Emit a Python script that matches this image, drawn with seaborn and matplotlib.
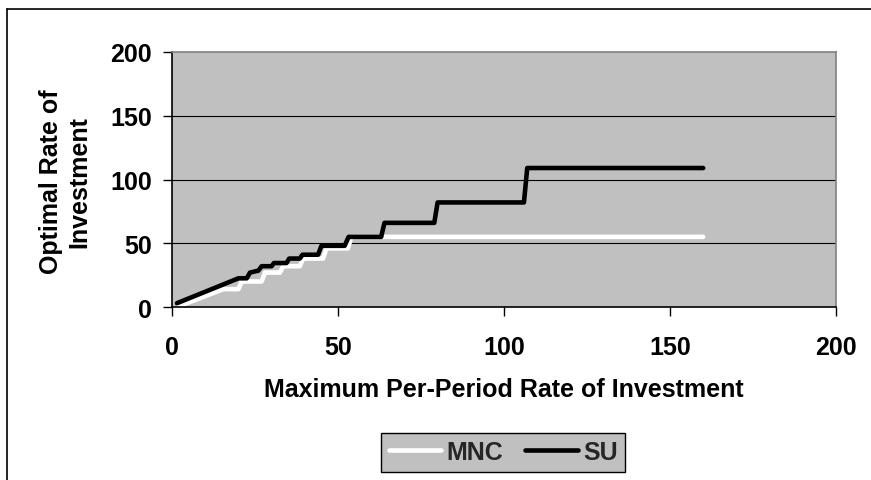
import matplotlib
matplotlib.use("Agg")
import matplotlib.pyplot as plt
import seaborn as sns
import pandas as pd
from matplotlib.lines import Line2D

# ---- data ----
mnc_x = [2, 15.5, 20, 21, 27, 28, 32.5, 33.5, 38.5, 39.5, 45.5, 46.5, 53, 54, 160]
mnc_y = [0.5, 14, 14, 20, 20, 27, 27, 32, 32, 38, 38, 46, 46, 55, 55]
su_x = [1.5, 20, 22.5, 23.5, 26, 27, 30, 30.7, 34.5, 35.3, 38.5, 39.3, 44, 45, 52, 53.2, 63, 64, 79, 80, 106, 107, 160]
su_y = [3, 22.5, 22.5, 27, 28.5, 32, 32, 34.5, 34.5, 38, 38, 41, 41, 48, 48, 55, 55, 66, 66, 82, 82, 109, 109]
series_names = ["MNC", "SU"]
x_ticks = [0, 50, 100, 150, 200]
y_ticks = [0, 50, 100, 150, 200]
x_title = "Maximum Per-Period Rate of Investment"
y_title = "Optimal Rate of\nInvestment"

df_mnc = pd.DataFrame({"x": mnc_x, "y": mnc_y})
df_su = pd.DataFrame({"x": su_x, "y": su_y})

sns.set_theme(style="white")
plt.rcParams["font.family"] = ["Liberation Sans", "DejaVu Sans"]
plt.rcParams["font.weight"] = "bold"

FS = 18
fig = plt.figure(figsize=(8.71, 4.81), dpi=100)
fig.patch.set_facecolor("white")
W, H = 871, 481
ax = fig.add_axes([172 / W, 1 - 308 / H, (836 - 172) / W, (308 - 53) / H])
ax.set_facecolor("#c0c0c0")

sns.lineplot(data=df_mnc, x="x", y="y", sort=False, estimator=None, color="white",
             linewidth=3.3, ax=ax, label=series_names[0])
sns.lineplot(data=df_su, x="x", y="y", sort=False, estimator=None, color="black",
             linewidth=3.3, ax=ax, label=series_names[1])
for ln in ax.lines:
    ln.set_solid_capstyle("round")
    ln.set_solid_joinstyle("round")

ax.set_xlim(0, 200)
ax.set_ylim(0, 200)
ax.set_xticks(x_ticks)
ax.set_yticks(y_ticks)
ax.grid(False)
for yv in y_ticks[1:-1]:
    ax.axhline(yv, color="black", linewidth=0.8, zorder=0.5)

for s in ax.spines.values():
    s.set_color("#808080")
    s.set_linewidth(1.2)
ax.spines["left"].set_color("black")
ax.spines["bottom"].set_color("black")

ax.tick_params(axis="both", which="major", direction="out", length=6.5, width=1,
               color="black", labelsize=FS, labelcolor="black", bottom=True, left=True)
ax.tick_params(axis="x", pad=14)
ax.tick_params(axis="y", pad=8)
for lab in ax.get_xticklabels() + ax.get_yticklabels():
    lab.set_fontweight("bold")

ax.set_xlabel(x_title, fontsize=FS, fontweight="bold", color="black")
ax.set_ylabel(y_title, fontsize=FS, fontweight="bold", color="black", linespacing=1.2)
ax.xaxis.set_label_coords(0.5, -0.322)
ax.xaxis.label.set_va("center")
ax.yaxis.set_label_coords(-0.161, 0.494)
ax.yaxis.label.set_va("center")
ax.yaxis.label.set_ha("center")

handles, labels = ax.get_legend_handles_labels()
leg = ax.legend(handles, labels, loc="center", bbox_to_anchor=(503 / W, 1 - 453 / H),
                bbox_transform=fig.transFigure, ncol=2, frameon=True, fancybox=False,
                framealpha=1, facecolor="#c0c0c0", edgecolor="black",
                prop={"family": ["Liberation Sans"], "weight": "bold", "size": FS},
                handlelength=2.1, handletextpad=0.2, columnspacing=0.9,
                borderpad=0.3, borderaxespad=0)
leg.get_frame().set_linewidth(1.0)
for h in leg.get_lines():
    h.set_linewidth(3.3)

# outer chart border (top and left visible)
fig.add_artist(Line2D([7 / W, 1.0], [1 - 10 / H, 1 - 10 / H], transform=fig.transFigure,
                      color="black", linewidth=1.2))
fig.add_artist(Line2D([7 / W, 7 / W], [0, 1 - 10 / H], transform=fig.transFigure,
                      color="black", linewidth=1.2))

fig.savefig("out.png", dpi=100)
